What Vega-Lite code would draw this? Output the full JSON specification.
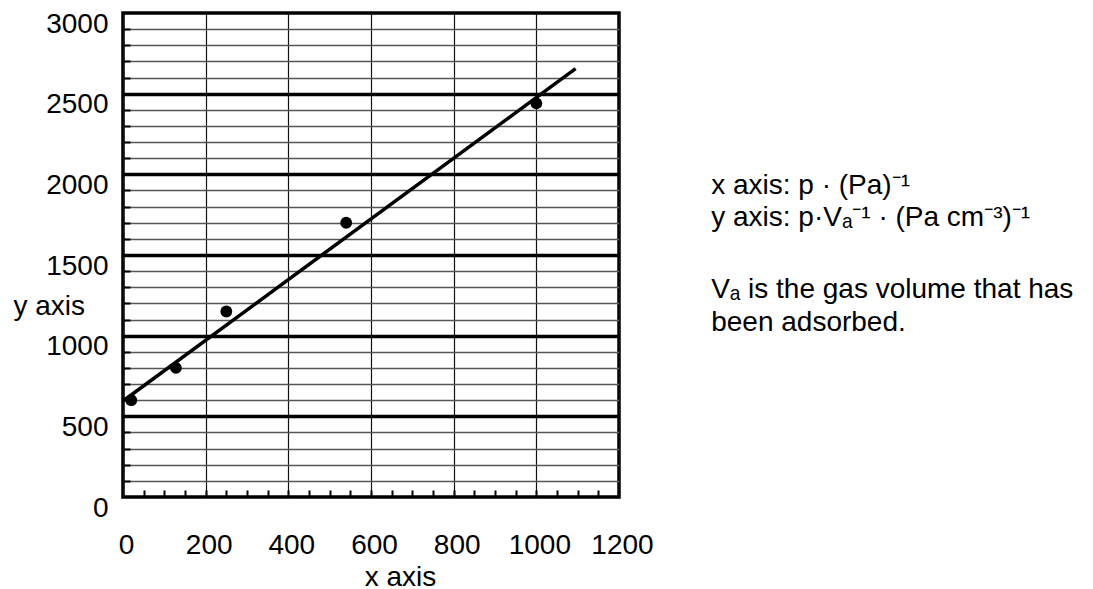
{
  "$schema": "https://vega.github.io/schema/vega-lite/v6.json",
  "width": 496,
  "height": 484,
  "autosize": {"type": "none"},
  "padding": {"left": 123, "top": 13, "right": 474, "bottom": 92},
  "background": "white",
  "config": {
    "font": "Liberation Sans",
    "view": {"stroke": "black", "strokeWidth": 3.5},
    "axis": {"labelFont": "Liberation Sans", "titleFont": "Liberation Sans", "labelColor": "black", "titleColor": "black", "titleFontWeight": "normal", "labelFlush": false, "labelOverlap": false}
  },
  "datasets": {
    "points": [
      {"x": 20, "y": 600},
      {"x": 128, "y": 800},
      {"x": 250, "y": 1150},
      {"x": 540, "y": 1700},
      {"x": 1000, "y": 2440}
    ],
    "fit": [
      {"x": 0, "y": 595},
      {"x": 1095, "y": 2655}
    ],
    "notes": [
      {"text": "x axis: p · (Pa)⁻¹", "ny": 1878},
      {"text": "y axis: p·Vₐ⁻¹ · (Pa cm⁻³)⁻¹", "ny": 1680},
      {"text": "Vₐ is the gas volume that has", "ny": 1233},
      {"text": "been adsorbed.", "ny": 1029}
    ]
  },
  "resolve": {"axis": {"x": "independent", "y": "independent"}},
  "layer": [
    {
      "data": {"name": "fit"},
      "mark": {"type": "line", "color": "black", "strokeWidth": 3.5},
      "encoding": {
        "x": {"field": "x", "type": "quantitative", "scale": {"domain": [0, 1200], "nice": false},
          "axis": {"orient": "bottom", "values": [50,100,150,200,250,300,350,400,450,500,550,600,650,700,750,800,850,900,950,1000,1050,1100,1150],
            "grid": false, "ticks": true, "tickSize": -7, "tickWidth": 2, "tickColor": "black", "labels": false, "domain": false, "title": null}},
        "y": {"field": "y", "type": "quantitative", "scale": {"domain": [0, 3000], "nice": false},
          "axis": {"orient": "left", "values": [100,200,300,400,600,700,800,900,1100,1200,1300,1400,1600,1700,1800,1900,2100,2200,2300,2400,2600,2700,2800,2900],
            "grid": true, "gridColor": "#555555", "gridWidth": 1.3, "ticks": true, "tickSize": -7, "tickWidth": 2, "tickColor": "black", "labels": false, "domain": false, "title": null}}
      }
    },
    {
      "data": {"name": "points"},
      "mark": {"type": "point", "shape": "circle", "filled": true, "size": 140, "color": "black", "opacity": 1},
      "encoding": {
        "x": {"field": "x", "type": "quantitative",
          "axis": {"orient": "bottom", "values": [0,200,400,600,800,1000,1200], "format": "d", "title": "x axis",
            "grid": true, "gridColor": "#111111", "gridWidth": 1.2, "ticks": false, "domain": false,
            "labelFontSize": 28, "labelBaseline": "alphabetic", "labelPadding": 56, "labelOffset": 3,
            "titleFontSize": 28, "titleX": 277, "titleY": 88, "titleBaseline": "alphabetic", "titleAlign": "center"}},
        "y": {"field": "y", "type": "quantitative",
          "axis": {"orient": "left", "values": [0,500,1000,1500,2000,2500,3000], "format": "d", "title": "y axis",
            "grid": false, "ticks": false, "domain": false,
            "labelFontSize": 28, "labelBaseline": "alphabetic", "labelOffset": 19, "labelPadding": 15, "labelAlign": "right",
            "titleFontSize": 28, "titleAngle": 0, "titleX": -110, "titleY": 301, "titleAlign": "left", "titleBaseline": "alphabetic"}}
      }
    },
    {
      "data": {"name": "notes"},
      "mark": {"type": "text", "align": "left", "baseline": "alphabetic", "fontSize": 28, "font": "Liberation Sans", "color": "black"},
      "encoding": {
        "x": {"datum": 1423, "type": "quantitative", "axis": null},
        "y": {"field": "ny", "type": "quantitative",
          "axis": {"orient": "left", "values": [500,1000,1500,2000,2500], "grid": true, "gridColor": "black", "gridWidth": 3.5,
            "ticks": false, "labels": false, "domain": false, "title": null}},
        "text": {"field": "text"}
      }
    }
  ]
}
